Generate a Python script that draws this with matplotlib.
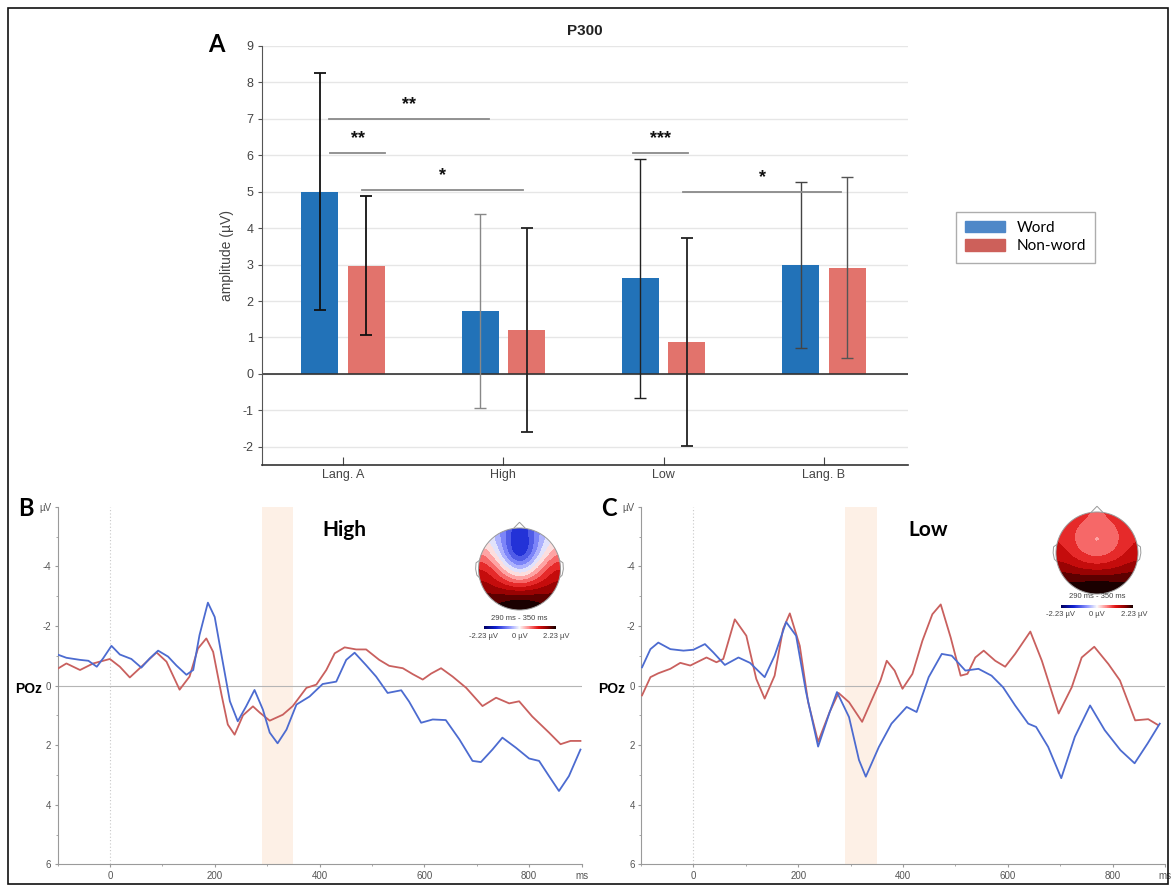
import numpy as np
import matplotlib
matplotlib.use("Agg")
import matplotlib.pyplot as plt
from matplotlib.patches import Patch, Circle, Rectangle, Polygon
from matplotlib.colors import LinearSegmentedColormap, Normalize
from matplotlib.cm import ScalarMappable

plt.rcParams['font.family'] = ['Liberation Sans', 'DejaVu Sans']
plt.rcParams['axes.unicode_minus'] = False

# ---- panel A data ----
conditions = ["Lang. A", "High", "Low", "Lang. B"]
word_mean = [5.0, 1.72, 2.63, 2.99]
word_sd = [3.25, 2.66, 3.28, 2.27]
nonword_mean = [2.97, 1.20, 0.87, 2.92]
nonword_sd = [1.90, 2.80, 2.85, 2.48]
word_err_col = ["#111111", "#888888", "#222222", "#444444"]
nonword_err_col = ["#111111", "#222222", "#222222", "#555555"]

# significance brackets: (x start, x end, y, label)
sig_x0 = [0.91, 0.92, 1.12, 2.81, 3.12]
sig_x1 = [1.91, 1.26, 2.12, 3.15, 4.11]
sig_y = [7.0, 6.07, 5.06, 6.07, 5.0]
sig_lab = ["**", "**", "*", "***", "*"]

# ---- ERP data (POz) ----
b_word_t = [-100, -83, -57, -41, -25, -13, 3, 19, 41, 60, 76, 92, 111, 127, 146, 159, 171, 187, 200, 213,
            229, 244, 260, 276, 292, 305, 320, 337, 356, 381, 406, 432, 451, 467, 489, 508, 530, 556, 571,
            594, 616, 641, 667, 692, 708, 730, 749, 775, 800, 819, 838, 857, 876, 898]
b_word_v = [-1.04, -0.93, -0.86, -0.83, -0.63, -0.91, -1.33, -1.04, -0.89, -0.6, -0.91, -1.17, -0.97, -0.67,
            -0.36, -0.52, -1.69, -2.78, -2.3, -1.02, 0.53, 1.2, 0.7, 0.15, 0.81, 1.58, 1.94, 1.48, 0.64, 0.37,
            -0.05, -0.13, -0.86, -1.1, -0.68, -0.3, 0.25, 0.16, 0.54, 1.25, 1.14, 1.16, 1.81, 2.53, 2.57, 2.15,
            1.75, 2.09, 2.45, 2.53, 3.04, 3.54, 3.04, 2.15]
b_nonword_t = [-100, -83, -57, -32, 0, 19, 38, 57, 89, 108, 133, 152, 168, 184, 197, 213, 225, 238, 254, 273,
               286, 305, 330, 349, 375, 394, 413, 429, 448, 470, 489, 514, 533, 559, 578, 597, 613, 632, 654,
               680, 711, 737, 762, 781, 806, 838, 860, 879, 898]
b_nonword_v = [-0.56, -0.74, -0.52, -0.74, -0.89, -0.63, -0.27, -0.58, -1.11, -0.8, 0.14, -0.3, -1.24, -1.58,
               -1.13, 0.31, 1.31, 1.65, 1.0, 0.7, 0.91, 1.18, 0.98, 0.69, 0.08, -0.03, -0.52, -1.08, -1.28,
               -1.21, -1.21, -0.86, -0.66, -0.58, -0.38, -0.2, -0.4, -0.58, -0.3, 0.08, 0.69, 0.41, 0.6, 0.53,
               1.04, 1.58, 1.97, 1.86, 1.86]
c_word_t = [-98, -82, -67, -44, -19, 0, 22, 38, 60, 86, 108, 136, 155, 177, 196, 215, 238, 260, 274, 297,
            316, 329, 354, 378, 407, 426, 449, 474, 493, 519, 544, 569, 591, 614, 639, 654, 677, 702, 728,
            757, 785, 815, 842, 867, 890]
c_word_v = [-0.61, -1.22, -1.44, -1.22, -1.17, -1.2, -1.39, -1.11, -0.69, -0.94, -0.76, -0.28, -1.0, -2.13,
            -1.67, 0.22, 2.05, 0.9, 0.22, 1.06, 2.5, 3.06, 2.06, 1.28, 0.72, 0.89, -0.28, -1.06, -1.0, -0.5,
            -0.56, -0.33, 0.06, 0.67, 1.28, 1.39, 2.06, 3.11, 1.72, 0.67, 1.5, 2.17, 2.61, 1.94, 1.28]
c_nonword_t = [-98, -82, -67, -44, -25, -6, 25, 44, 57, 79, 101, 120, 136, 155, 171, 184, 203, 219, 238, 260,
               277, 297, 322, 340, 357, 369, 384, 399, 418, 437, 456, 472, 491, 510, 523, 538, 554, 576, 595,
               614, 643, 665, 697, 722, 741, 765, 792, 814, 843, 868, 887]
c_nonword_v = [0.33, -0.28, -0.41, -0.56, -0.76, -0.67, -0.94, -0.78, -0.89, -2.22, -1.67, -0.22, 0.44, -0.33,
               -1.89, -2.42, -1.33, 0.56, 1.89, 0.89, 0.25, 0.56, 1.22, 0.5, -0.17, -0.83, -0.5, 0.11, -0.39,
               -1.5, -2.39, -2.72, -1.61, -0.33, -0.39, -0.94, -1.17, -0.83, -0.63, -1.06, -1.81, -0.83, 0.94,
               0.06, -0.94, -1.3, -0.72, -0.17, 1.17, 1.13, 1.33]

# topographic maps 290-350 ms (coarse grid, rows front->back)
topo_high = [[0.0, -0.7, -1.6, -0.7, 0.0],
             [0.5, -0.6, -1.9, -0.6, 0.5],
             [1.2, 0.3, -0.6, 0.3, 1.2],
             [1.5, 1.2, 0.9, 1.2, 1.5],
             [1.9, 2.1, 2.3, 2.1, 1.9]]
topo_low = [[1.1, 0.9, 0.8, 0.9, 1.1],
            [1.1, 0.6, 0.4, 0.6, 1.1],
            [1.2, 0.8, 0.6, 0.8, 1.2],
            [1.6, 1.4, 1.3, 1.4, 1.6],
            [2.1, 2.2, 2.3, 2.2, 2.1]]
topo_lim = 2.23

W, H = 1171, 886
fig = plt.figure(figsize=(W / 100, H / 100), dpi=100)


def fx(px):
    return px / W


def fy(py):
    return 1 - py / H


# ================= Panel A =================
axA = fig.add_axes([fx(262), fy(465), fx(908 - 262), (465 - 46) / H])
x = np.arange(1, 5)
bw = 0.23
off = 0.145
axA.bar(x - off, word_mean, bw, color="#2272b8", zorder=2)
axA.bar(x + off, nonword_mean, bw, color="#e2736c", zorder=2)
for i in range(4):
    axA.errorbar(x[i] - off, word_mean[i], yerr=word_sd[i], fmt="none", ecolor=word_err_col[i],
                 elinewidth=1.3 if i == 0 else 1.0, capsize=4, capthick=1.3 if i == 0 else 1.0, zorder=3)
    axA.errorbar(x[i] + off, nonword_mean[i], yerr=nonword_sd[i], fmt="none", ecolor=nonword_err_col[i],
                 elinewidth=1.3 if i < 3 else 1.0, capsize=4, capthick=1.3 if i < 3 else 1.0, zorder=3)
for x0, x1, y, lab in zip(sig_x0, sig_x1, sig_y, sig_lab):
    axA.plot([x0, x1], [y, y], color="#8a8a8a", lw=1.3, zorder=4)
    axA.text((x0 + x1) / 2, y + 0.16, lab, ha="center", va="bottom", fontsize=13, fontweight="bold",
             color="#111111", zorder=5)
axA.axhline(0, color="#333333", lw=1.2, zorder=2.5)
axA.set_xlim(0.494, 4.525)
axA.set_ylim(-2.5, 9)
axA.set_yticks(range(-2, 10))
axA.set_xticks(x)
axA.set_xticklabels(conditions)
axA.yaxis.grid(True, color="#e6e6e6", lw=1)
axA.set_axisbelow(True)
for s in ["top", "right"]:
    axA.spines[s].set_visible(False)
axA.spines["left"].set_color("#555555")
axA.spines["bottom"].set_color("#333333")
axA.spines["bottom"].set_linewidth(1.2)
axA.tick_params(axis="x", direction="in", length=6, color="#444444", labelsize=9, labelcolor="#444444", pad=3)
axA.tick_params(axis="y", direction="out", length=3, color="#555555", labelsize=9, labelcolor="#444444", pad=3)
axA.set_ylabel("amplitude (\u00b5V)", fontsize=10, color="#444444", labelpad=6)
axA.set_title("P300", fontsize=11, fontweight="bold", color="#222222", pad=8)

fig.legend(handles=[Patch(color="#4f88c8", label="Word"), Patch(color="#cd605a", label="Non-word")],
           loc="upper left", bbox_to_anchor=(fx(948), fy(204)), frameon=True, fancybox=False,
           edgecolor="#999999", handlelength=2.6, handleheight=0.75, borderpad=0.6, labelspacing=0.3,
           prop={"family": "Lato", "size": 11})

# ================= ERP panels =================
cmap = LinearSegmentedColormap.from_list(
    "topo", [(0.0, "#000060"), (0.17, "#1020d0"), (0.36, "#8e96ff"), (0.5, "#fbfbfb"),
             (0.63, "#ff8a8a"), (0.76, "#e01212"), (0.89, "#8a0000"), (1.0, "#1a0000")]).resampled(16)
norm = Normalize(-topo_lim, topo_lim)


def erp_panel(left, t1, v1, t2, v2, letter, label, topo, head_c, head_r, txt_y, cb_y):
    ax = fig.add_axes([fx(left), fy(864.3), fx(524), (864.3 - 506.7) / H])
    ax.axvspan(290, 350, color="#fdf0e6", lw=0, zorder=0)
    ax.axhline(0, color="#b5b5b5", lw=0.8, zorder=1)
    ax.axvline(0, color="#c8c8c8", lw=0.8, ls=(0, (1, 2)), zorder=1)
    ax.plot(t2, v2, color="#c9605e", lw=1.3, zorder=3)
    ax.plot(t1, v1, color="#4c6bd0", lw=1.3, zorder=3)
    ax.set_xlim(-100, 900)
    ax.set_ylim(6, -6)
    ax.set_yticks([-6, -4, -2, 0, 2, 4, 6])
    ax.set_yticklabels(["\u00b5V", "-4", "-2", "0", "2", "4", "6"])
    ax.set_xticks([0, 200, 400, 600, 800, 900])
    ax.set_xticklabels(["0", "200", "400", "600", "800", "ms"])
    ax.set_yticks(range(-5, 6, 2), minor=True)
    ax.set_xticks(range(-100, 900, 100), minor=True)
    for s in ["top", "right"]:
        ax.spines[s].set_visible(False)
    for s in ["left", "bottom"]:
        ax.spines[s].set_color("#9a9a9a")
        ax.spines[s].set_linewidth(0.8)
    ax.tick_params(which="both", direction="out", length=2.5, color="#9a9a9a", labelsize=7,
                   labelcolor="#555555", pad=2)
    ax.tick_params(which="minor", length=1.5)
    ax.patch.set_alpha(0)

    fig.text(fx(left - 32), fy(508), letter, fontsize=17, fontweight="bold", family="Lato",
             ha="center", va="center")
    fig.text(fx(left - 29), fy(689), "POz", fontsize=10, fontweight="bold", ha="center", va="center")
    fig.text(fx(left + 287), fy(530), label, fontsize=15, fontweight="bold", family="Lato",
             ha="center", va="center")

    # head map
    size = head_r * 2.5
    axh = fig.add_axes([fx(head_c[0] - size / 2), fy(head_c[1] + size / 2), fx(size), size / H])
    axh.set_xlim(-1.25, 1.25)
    axh.set_ylim(-1.25, 1.25)
    axh.axis("off")
    im = axh.imshow(np.array(topo), extent=(-1, 1, -1, 1), origin="upper", cmap=cmap, norm=norm,
                    interpolation="bicubic", zorder=1)
    circ = Circle((0, 0), 1, transform=axh.transData)
    im.set_clip_path(circ)
    axh.add_patch(Circle((0, 0), 1, fill=False, ec="#9a9a9a", lw=0.7, zorder=2))
    axh.add_patch(Polygon([[-0.15, 0.985], [0, 1.14], [0.15, 0.985]], closed=False, fill=False,
                          ec="#9a9a9a", lw=0.7, zorder=2))
    for sgn in (-1, 1):
        axh.plot([sgn * 0.99, sgn * 1.06, sgn * 1.07, sgn * 1.04, sgn * 0.99],
                 [0.2, 0.15, 0.0, -0.15, -0.2], color="#9a9a9a", lw=0.7, zorder=2)
    fig.text(fx(head_c[0]), fy(txt_y), "290 ms - 350 ms", fontsize=5.5, color="#444444",
             ha="center", va="center")
    cax = fig.add_axes([fx(head_c[0] - 36), fy(cb_y + 1.5), fx(72), 3 / H])
    cb = fig.colorbar(ScalarMappable(norm=norm, cmap=cmap.resampled(256)), cax=cax, orientation="horizontal")
    cb.set_ticks([])
    cb.outline.set_visible(False)
    for dx, s in zip([-36, 0, 37], ["-2.23 \u00b5V", "0 \u00b5V", "2.23 \u00b5V"]):
        fig.text(fx(head_c[0] + dx), fy(cb_y + 9), s, fontsize=5.5, color="#444444",
                 ha="center", va="center")


erp_panel(57.5, b_word_t, b_word_v, b_nonword_t, b_nonword_v, "B", "High", topo_high,
          (519.5, 569), 41, 618, 627)
erp_panel(641, c_word_t, c_word_v, c_nonword_t, c_nonword_v, "C", "Low", topo_low,
          (1097, 553), 41, 596, 606)

fig.text(fx(216), fy(45), "A", fontsize=17, fontweight="bold", family="Lato", ha="center", va="center")

# outer frame
fig.add_artist(Rectangle((fx(8), fy(884)), fx(1160), (884 - 8) / H, transform=fig.transFigure,
                         fill=False, ec="#111111", lw=1.2))

fig.savefig("out.png", dpi=100)
